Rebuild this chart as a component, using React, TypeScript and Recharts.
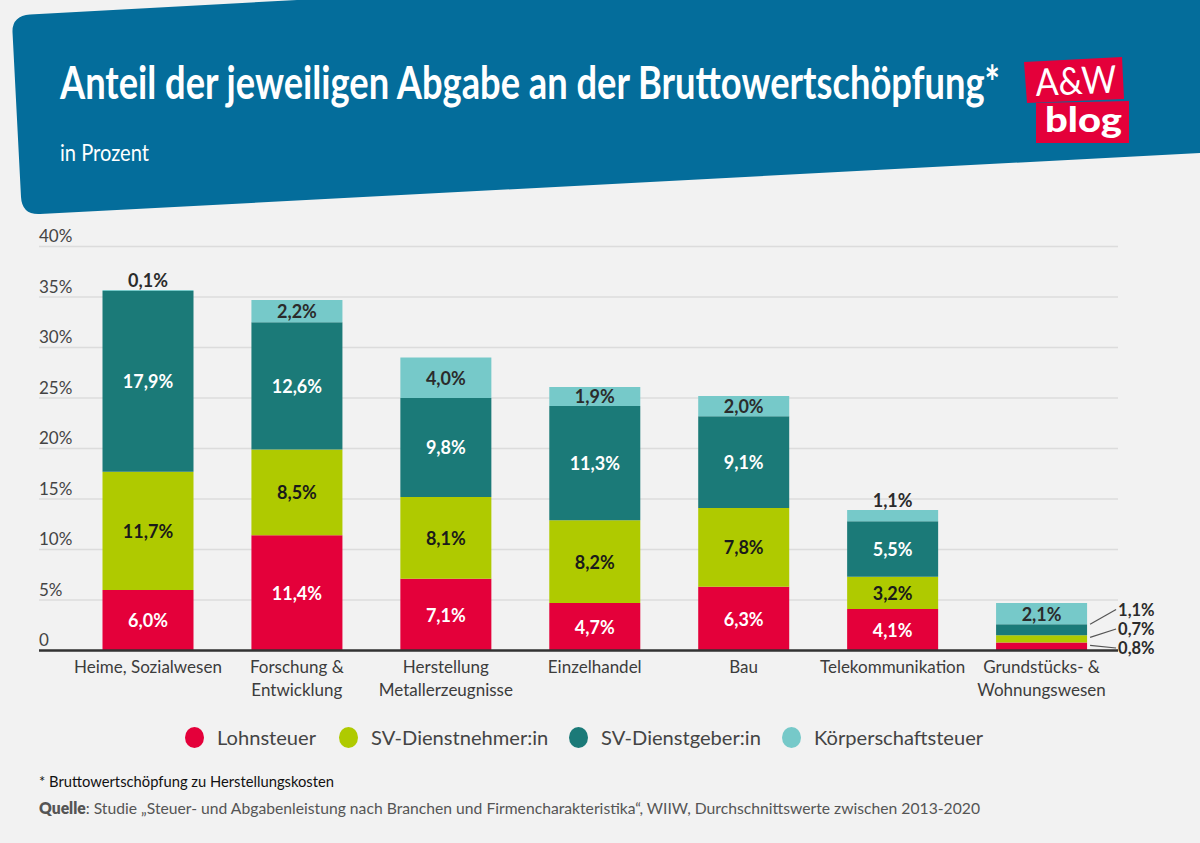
import { Bar, BarChart, CartesianGrid, LabelList, Legend, XAxis, YAxis } from 'recharts';

const FONT = 'Lato, "Noto Sans", sans-serif';

const categories = [
  'Heime, Sozialwesen',
  'Forschung &\nEntwicklung',
  'Herstellung\nMetallerzeugnisse',
  'Einzelhandel',
  'Bau',
  'Telekommunikation',
  'Grundstücks- &\nWohnungswesen',
];
const lohnsteuer = [6.0, 11.4, 7.1, 4.7, 6.3, 4.1, 0.8];
const svDienstnehmer = [11.7, 8.5, 8.1, 8.2, 7.8, 3.2, 0.7];
const svDienstgeber = [17.9, 12.6, 9.8, 11.3, 9.1, 5.5, 1.1];
const koerperschaft = [0.1, 2.2, 4.0, 1.9, 2.0, 1.1, 2.1];
const yTicks = [0, 5, 10, 15, 20, 25, 30, 35, 40];

const chartData = categories.map((name, i) => ({
  name,
  lohnsteuer: lohnsteuer[i],
  svDienstnehmer: svDienstnehmer[i],
  svDienstgeber: svDienstgeber[i],
  koerperschaft: koerperschaft[i],
}));

const series = [
  { key: 'lohnsteuer', label: 'Lohnsteuer', color: '#e4003a', text: '#ffffff', leaderY: 3, labelY: 648 },
  { key: 'svDienstnehmer', label: 'SV-Dienstnehmer:in', color: '#afca00', text: '#1a1a1a', leaderY: 2, labelY: 629 },
  { key: 'svDienstgeber', label: 'SV-Dienstgeber:in', color: '#1b7a78', text: '#ffffff', leaderY: 0, labelY: 609.5 },
  { key: 'koerperschaft', label: 'Körperschaftsteuer', color: '#76c9c9', text: '#2b2b2b', leaderY: 0, labelY: 0 },
];

const percent = (v: number) => `${v.toFixed(1).replace('.', ',')}%`;

const makeLabel = (s: (typeof series)[number]) => (props: any) => {
  const { x, y, width, height, value, index } = props;
  const common = { fontFamily: FONT, fontSize: 18, fontWeight: 700, fill: s.text, dominantBaseline: 'central' as const };
  // Grundstücks: the thin segments get their label outside, with a leader line
  if (index === categories.length - 1 && s.labelY) {
    const right = x + width;
    return (
      <g>
        <line x1={right + 3} y1={y + s.leaderY} x2={right + 29} y2={s.labelY} stroke="#555" strokeWidth={1.2} />
        <text {...common} x={right + 31} y={s.labelY} fontSize={16.5} fill="#2b2b2b">{percent(value)}</text>
      </g>
    );
  }
  if (height < 12) {
    return <text {...common} x={x + width / 2} y={y - 10} textAnchor="middle">{percent(value)}</text>;
  }
  return <text {...common} x={x + width / 2} y={y + height / 2} textAnchor="middle">{percent(value)}</text>;
};

const YTick = ({ y, payload }: any) => (
  <text x={39} y={y - 11} fontFamily={FONT} fontSize={17} fill="#444" dominantBaseline="central">
    {payload.value === 0 ? '0' : `${payload.value}%`}
  </text>
);

const XTick = ({ x, y, payload }: any) => (
  <text x={x} y={y} fontFamily={FONT} fontSize={17} fill="#3c3c3c" textAnchor="middle">
    {String(payload.value).split('\n').map((line, i) => (
      <tspan key={line} x={x} y={y + 14 + i * 23}>{line}</tspan>
    ))}
  </text>
);

const legendGaps = [195, 349, 579, 792];

const ChartLegend = () => (
  <div style={{ position: 'relative', height: 30, fontFamily: FONT, fontSize: 20.1, color: '#444' }}>
    {series.map((s, i) => (
      <div key={s.key} style={{ position: 'absolute', left: legendGaps[i] - 10, top: 0, display: 'flex', alignItems: 'center', height: 30, whiteSpace: 'nowrap' }}>
        <span style={{ width: 19, height: 21, borderRadius: '50%', background: s.color, marginRight: 13 }} />
        {s.label}
      </div>
    ))}
  </div>
);

const Header = () => (
  <svg width={1200} height={843} style={{ position: 'absolute', left: 0, top: 0 }}>
    <path d="M 12.5 32 Q 12 16 30 14.5 L 297 0 L 1200 0 L 1200 153 L 40 214 Q 22 215 21 197 Z" fill="#046d9b" />
    <text transform="translate(60 99) scale(0.8 1)" fontFamily={FONT} fontSize={45} fontWeight={700} fill="#fff" textLength={1175} lengthAdjust="spacingAndGlyphs">
      Anteil der jeweiligen Abgabe an der Bruttowertschöpfung*
    </text>
    <text x={60} y={161} fontFamily={FONT} fontSize={24} fill="#fff" textLength={89} lengthAdjust="spacingAndGlyphs">
      in Prozent
    </text>
    <polygon points="1024,62 1122,57 1124,99 1027,103" fill="#e4003a" />
    <polygon points="1036,103 1129,101 1129,143 1036,143" fill="#e4003a" />
    <text x={1036} y={96} fontFamily={FONT} fontSize={38} fill="#fff" textLength={81} lengthAdjust="spacingAndGlyphs" transform="rotate(-2.5 1036 96)">
      A&amp;W
    </text>
    <text x={1045} y={132} fontFamily={FONT} fontSize={34} fontWeight={900} fill="#fff" textLength={77} lengthAdjust="spacingAndGlyphs">
      blog
    </text>
    <text x={39} y={787} fontFamily={FONT} fontSize={16} fill="#111" textLength={295} lengthAdjust="spacingAndGlyphs">
      * Bruttowertschöpfung zu Herstellungskosten
    </text>
    <text x={39} y={814} fontFamily={FONT} fontSize={16} fill="#555" textLength={941} lengthAdjust="spacingAndGlyphs">
      <tspan fontWeight={800}>Quelle</tspan>: Studie „Steuer- und Abgabenleistung nach Branchen und Firmencharakteristika“, WIIW, Durchschnittswerte zwischen 2013-2020
    </text>
  </svg>
);

export default function App() {
  return (
    <div style={{ position: 'absolute', left: 0, top: 0, width: 1200, height: 843, background: '#f2f2f2', overflow: 'hidden' }}>
      <Header />
      <div style={{ position: 'absolute', left: 0, top: 0 }}>
        <BarChart width={1200} height={843} data={chartData} margin={{ top: 246.5, right: 82, bottom: 112.5, left: 38 }}>
          <CartesianGrid horizontal vertical={false} stroke="#dcdcdc" strokeWidth={1.5} />
          <XAxis
            dataKey="name"
            height={50}
            interval={0}
            padding={{ left: 34.5, right: 2 }}
            tick={<XTick />}
            tickLine={false}
            axisLine={{ stroke: '#333', strokeWidth: 2.5 }}
          />
          <YAxis width={1} domain={[0, 40]} ticks={yTicks} tick={<YTick />} tickLine={false} axisLine={false} />
          <Legend height={30} content={<ChartLegend />} wrapperStyle={{ top: 722, bottom: 'auto', left: 0, width: 1200 }} />
          {series.map((s) => (
            <Bar key={s.key} dataKey={s.key} name={s.label} stackId="a" fill={s.color} barSize={91} isAnimationActive={false}>
              <LabelList dataKey={s.key} content={makeLabel(s)} />
            </Bar>
          ))}
        </BarChart>
      </div>
    </div>
  );
}
